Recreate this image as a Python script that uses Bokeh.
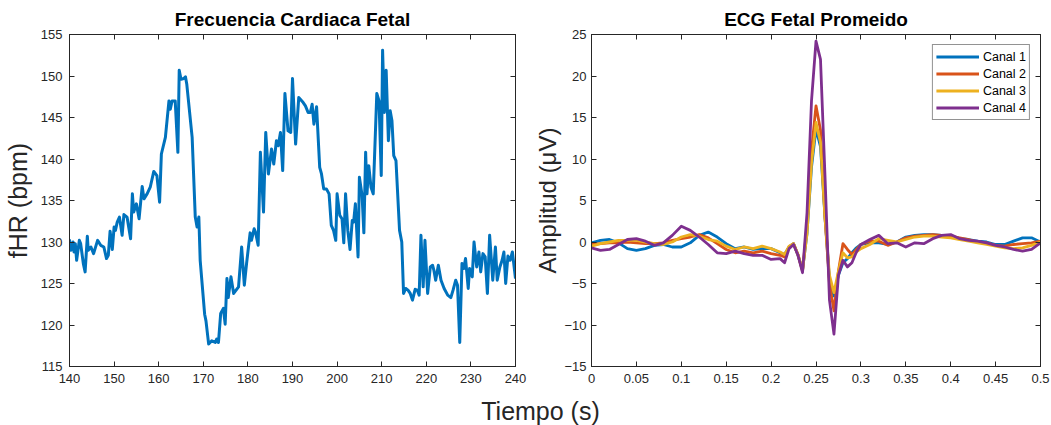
from bokeh.plotting import figure
from bokeh.layouts import row, column
from bokeh.models import (LinearAxis, FixedTicker, CustomJSTickFormatter, Label,
                          Legend, LegendItem, Range1d)
from bokeh.embed import file_html
from bokeh.resources import INLINE

# ---------------- data ----------------
fhr_time = [140.0, 140.3, 140.8, 141.0, 141.3, 141.6, 142.2, 142.5, 143.1, 143.5, 144.0, 144.2,
            144.8, 145.4, 146.3, 147.0, 147.7, 148.3, 148.7, 149.1, 149.6, 150.0, 150.3, 150.7,
            151.2, 151.8, 152.2, 152.9, 153.7, 154.1, 154.4, 155.0, 155.6, 156.3, 156.7, 157.4,
            158.1, 158.9, 159.6, 160.2, 160.6, 161.5, 162.3, 162.6, 163.0, 163.7, 164.3, 164.6,
            165.0, 165.6, 166.0, 166.3, 167.5, 168.2, 168.6, 169.0, 169.3, 170.3, 170.6, 171.2,
            171.9, 172.7, 173.0, 173.4, 173.9, 174.5, 174.9, 175.3, 175.6, 176.2, 176.8, 177.9,
            178.6, 179.2, 179.7, 180.5, 180.8, 181.4, 181.7, 182.3, 182.8, 183.5, 184.0, 184.6,
            185.3, 185.8, 186.4, 186.8, 187.3, 187.8, 188.3, 189.0, 189.6, 190.0, 190.7, 191.4,
            192.4, 192.9, 193.5, 194.0, 194.4, 194.8, 195.4, 196.1, 196.5, 197.0, 197.6, 198.2,
            198.7, 199.2, 199.7, 200.0, 200.6, 201.1, 201.5, 201.9, 202.4, 202.9, 203.4, 203.7,
            204.1, 204.7, 205.0, 205.6, 206.0, 206.4, 206.7, 207.1, 207.6, 208.1, 208.9, 209.4,
            209.9, 210.2, 210.6, 211.0, 211.5, 211.9, 212.3, 212.7, 213.2, 214.0, 214.5, 214.9,
            215.4, 215.9, 216.4, 216.9, 217.5, 218.0, 218.4, 218.8, 219.3, 219.7, 220.3, 220.9,
            221.4, 221.7, 222.1, 222.7, 223.3, 224.0, 224.8, 225.5, 226.0, 226.6, 227.0, 227.5,
            228.0, 228.4, 228.8, 229.4, 229.7, 230.3, 230.7, 231.3, 231.8, 232.2, 232.7, 233.2,
            233.7, 234.2, 234.9, 235.5, 235.9, 236.5, 237.0, 237.4, 237.8, 238.3, 238.8, 239.3,
            240.0]
fhr_bpm = [130.3, 129.0, 130.0, 128.8, 129.8, 127.8, 130.2, 129.8, 127.4, 126.4, 130.7, 129.0,
           129.4, 128.6, 130.2, 129.6, 129.4, 128.0, 128.4, 131.3, 129.1, 131.8, 131.4, 132.4,
           133.0, 130.8, 133.3, 133.0, 130.4, 135.8, 133.6, 134.6, 132.8, 136.7, 135.2, 135.8,
           136.6, 138.5, 138.0, 134.8, 140.6, 142.6, 147.0, 146.0, 147.0, 147.0, 140.8, 150.7,
           149.6, 149.7, 149.9, 149.0, 142.6, 133.0, 131.8, 133.0, 127.8, 121.3, 120.5, 117.7,
           118.1, 117.9, 118.3, 117.9, 121.4, 122.0, 120.1, 125.6, 123.3, 125.8, 123.8, 124.6,
           129.4, 124.8, 127.4, 131.1, 130.2, 131.6, 131.2, 129.6, 140.8, 133.6, 143.2, 138.2,
           141.2, 139.4, 142.2, 141.6, 143.2, 138.6, 147.9, 143.4, 143.2, 149.7, 141.8, 147.4,
           146.8, 146.4, 145.6, 145.6, 146.6, 144.2, 146.3, 139.0, 138.2, 136.4, 136.4, 135.8,
           132.0, 131.4, 130.2, 135.8, 133.2, 132.8, 129.9, 135.8, 131.4, 129.1, 132.6, 132.4,
           134.6, 128.2, 137.8, 135.6, 131.1, 140.8, 135.8, 139.2, 136.6, 135.8, 147.9, 147.0,
           138.0, 153.1, 145.6, 150.7, 142.2, 145.8, 144.6, 140.4, 139.8, 131.4, 130.0, 123.8,
           124.4, 124.2, 123.8, 123.0, 124.3, 124.2, 123.6, 130.8, 124.6, 130.2, 123.8, 127.0,
           127.2, 126.6, 125.4, 127.2, 125.4, 124.4, 123.6, 123.3, 124.2, 125.4, 124.8, 117.9,
           127.4, 126.8, 128.0, 124.4, 126.8, 125.8, 130.0, 127.0, 128.8, 126.4, 128.6, 128.2,
           123.8, 130.8, 125.4, 129.4, 125.4, 127.0, 127.8, 128.8, 125.0, 128.3, 127.8, 128.8,
           125.6]

ecg_time = [0.00, 0.01, 0.02, 0.03, 0.04, 0.05, 0.06, 0.07, 0.08, 0.09, 0.10, 0.11, 0.12, 0.13,
            0.14, 0.15, 0.16, 0.17, 0.18, 0.19, 0.20,
            0.21, 0.215, 0.22, 0.225, 0.23, 0.235, 0.24, 0.245, 0.25, 0.255, 0.26, 0.265, 0.27,
            0.275, 0.28, 0.285, 0.29, 0.295, 0.30,
            0.31, 0.32, 0.33, 0.34, 0.35, 0.36, 0.37, 0.38, 0.39, 0.40, 0.41, 0.42, 0.43, 0.44,
            0.45, 0.46, 0.47, 0.48, 0.49, 0.50]
canal1 = [-0.1, 0.2, 0.3, -0.1, -0.8, -1.0, -0.8, -0.4, -0.3, -0.6, -0.6, -0.1, 0.8, 1.2,
          0.6, -0.2, -0.8, -0.6, -0.9, -0.8, -0.8,
          -1.3, -1.5, -0.6, -0.2, -1.6, -3.4, 1.0, 9.0, 13.6, 11.5, 3.0, -4.5, -6.5,
          -4.0, -2.5, -2.0, -1.3, -0.7, -0.3,
          -0.1, -0.1, -0.3, 0.0, 0.6, 0.8, 0.9, 0.9, 0.8, 0.7, 0.4, 0.3, 0.1, 0.0,
          -0.3, -0.3, 0.1, 0.5, 0.5, 0.0]
canal2 = [-0.3, -0.2, -0.1, -0.1, 0.0, -0.1, -0.2, -0.2, -0.1, 0.2, 0.4, 0.6, 0.9, 0.5,
          -0.2, -0.9, -1.3, -1.1, -1.3, -1.1, -1.4,
          -1.6, -1.8, -0.6, -0.2, -1.6, -3.5, 2.0, 11.0, 16.4, 13.5, 3.0, -5.0, -8.3,
          -3.5, -0.2, -0.9, -1.5, -0.9, -0.3,
          0.1, 0.1, -0.4, 0.0, 0.5, 0.7, 0.8, 0.9, 0.8, 0.7, 0.5, 0.3, 0.0, -0.1,
          -0.4, -0.5, -0.3, -0.2, -0.1, 0.1]
canal3 = [-0.5, -0.2, 0.0, 0.2, 0.2, 0.2, 0.0, -0.2, -0.3, 0.0, 0.6, 0.9, 0.7, 0.3,
          0.1, -0.5, -0.9, -0.6, -0.8, -0.5, -0.8,
          -1.2, -1.5, -0.5, -0.2, -1.5, -3.4, 1.0, 9.5, 14.4, 12.0, 3.0, -4.0, -6.1,
          -3.5, -1.3, -1.9, -1.8, -1.2, -0.8,
          -0.3, 0.4, 0.2, 0.0, 0.3, 0.6, 0.7, 0.7, 0.6, 0.5, 0.3, 0.1, -0.1, -0.3,
          -0.5, -0.7, -0.8, -0.7, -0.4, 0.0]
canal4 = [-0.7, -1.0, -0.9, -0.3, 0.3, 0.4, 0.1, -0.4, -0.1, 0.8, 1.9, 1.4, 0.6, -0.3,
          -1.3, -1.4, -1.1, -1.4, -1.6, -1.6, -2.1,
          -2.0, -2.5, -0.8, -0.3, -1.6, -3.7, 3.5, 17.0, 24.2, 22.0, 8.0, -7.0, -11.1,
          -4.0, -2.2, -3.0, -2.5, -1.2, -0.3,
          0.3, 0.8, -0.2, -0.1, -0.6, -0.1, -0.2, 0.4, 0.8, 0.9, 0.4, 0.2, 0.1, -0.1,
          -0.4, -0.6, -0.9, -1.1, -0.9, -0.1]

series_names = ["Canal 1", "Canal 2", "Canal 3", "Canal 4"]
series_colors = ["#0072BD", "#D95319", "#EDB120", "#7E2F8E"]

left_xticks = [140, 150, 160, 170, 180, 190, 200, 210, 220, 230, 240]
left_yticks = [115, 120, 125, 130, 135, 140, 145, 150, 155]
right_xticks = [0, 0.05, 0.1, 0.15, 0.2, 0.25, 0.3, 0.35, 0.4, 0.45, 0.5]
right_yticks = [-15, -10, -5, 0, 5, 10, 15, 20, 25]

FONT = "Liberation Sans"
AX = "#262626"


def style(p, xticks, yticks, fmt=None, label_standoff=6, ylab_standoff=7):
    p.title.align = "center"
    p.title.text_font = FONT
    p.title.text_font_size = "19px"
    p.title.text_font_style = "bold"
    p.title.text_color = "black"
    p.outline_line_color = AX
    p.outline_line_width = 1
    p.xgrid.visible = False
    p.ygrid.visible = False
    p.background_fill_color = "white"
    p.border_fill_color = "white"
    for ax in p.xaxis:
        ax.ticker = FixedTicker(ticks=xticks)
        if fmt is not None:
            ax.formatter = fmt
    for ax in p.yaxis:
        ax.ticker = FixedTicker(ticks=yticks)
    for ax in list(p.xaxis) + list(p.yaxis):
        ax.axis_line_color = AX
        ax.major_tick_line_color = AX
        ax.major_tick_in = 5
        ax.major_tick_out = 0
        ax.minor_tick_line_color = None
        ax.major_label_text_font = FONT
        ax.major_label_text_font_size = "13px"
        ax.major_label_text_color = AX
        ax.major_label_standoff = 7
        ax.axis_label_text_font = FONT
        ax.axis_label_text_font_size = "25px"
        ax.axis_label_text_font_style = "normal"
        ax.axis_label_text_color = AX
        ax.axis_label_standoff = label_standoff
    for ax in p.yaxis:
        ax.major_label_standoff = ylab_standoff
    # box ticks on top and right (no labels)
    blank = CustomJSTickFormatter(code="return '';")
    top = LinearAxis(ticker=FixedTicker(ticks=xticks), formatter=blank,
                     major_tick_in=5, major_tick_out=0, major_label_standoff=0,
                     axis_line_color=AX, major_tick_line_color=AX, minor_tick_line_color=None)
    right = LinearAxis(ticker=FixedTicker(ticks=yticks), formatter=blank,
                       major_tick_in=5, major_tick_out=0, major_label_standoff=0,
                       axis_line_color=AX, major_tick_line_color=AX, minor_tick_line_color=None)
    p.add_layout(top, "above")
    p.add_layout(right, "right")


p1 = figure(width=530, height=395, x_range=Range1d(140, 240), y_range=Range1d(115, 155),
            output_backend="svg", toolbar_location=None, title="Frecuencia Cardiaca Fetal",
            min_border_left=67, min_border_right=15, min_border_top=34, min_border_bottom=29)
p1.line(fhr_time, fhr_bpm, line_color="#0072BD", line_width=3, line_join="round")
p1.yaxis.axis_label = "fHR (bpm)"
style(p1, left_xticks, left_yticks)

p2 = figure(width=521, height=395, x_range=Range1d(0, 0.5), y_range=Range1d(-15, 25),
            output_backend="svg", toolbar_location=None, title="ECG Fetal Promeido",
            min_border_left=61, min_border_right=11, min_border_top=34, min_border_bottom=29)
items = []
for name, col, vals in zip(series_names, series_colors, [canal1, canal2, canal3, canal4]):
    r = p2.line(ecg_time, vals, line_color=col, line_width=2.8, line_join="round")
    items.append(LegendItem(label=name, renderers=[r]))
p2.yaxis.axis_label = "Amplitud (\u03bcV)"
fmt = CustomJSTickFormatter(code="return String(Number(tick.toFixed(2)));")
style(p2, right_xticks, right_yticks, fmt, label_standoff=0, ylab_standoff=5)
p2.yaxis.axis_label_text_font_size = "24px"
legend = Legend(items=items, location="top_right", margin=10, padding=3, spacing=0,
                label_text_font=FONT, label_text_font_size="12.5px", label_text_color="black",
                label_height=17, glyph_height=17, glyph_width=43, label_standoff=4,
                border_line_color=AX, border_line_width=1, background_fill_color="white")
p2.add_layout(legend)

p3 = figure(width=1051, height=30, x_range=Range1d(0, 1051), y_range=Range1d(0, 30),
            output_backend="svg", toolbar_location=None, min_border=0,
            x_axis_location=None, y_axis_location=None)
p3.xgrid.visible = False
p3.ygrid.visible = False
p3.outline_line_color = None
p3.add_layout(Label(x=540, y=15, text="Tiempo (s)", text_align="center",
                    text_baseline="middle", text_font=FONT, text_font_size="25px",
                    text_color=AX))

layout = column(row(p1, p2), p3)
open("out.html", "w").write(file_html(layout, INLINE))
